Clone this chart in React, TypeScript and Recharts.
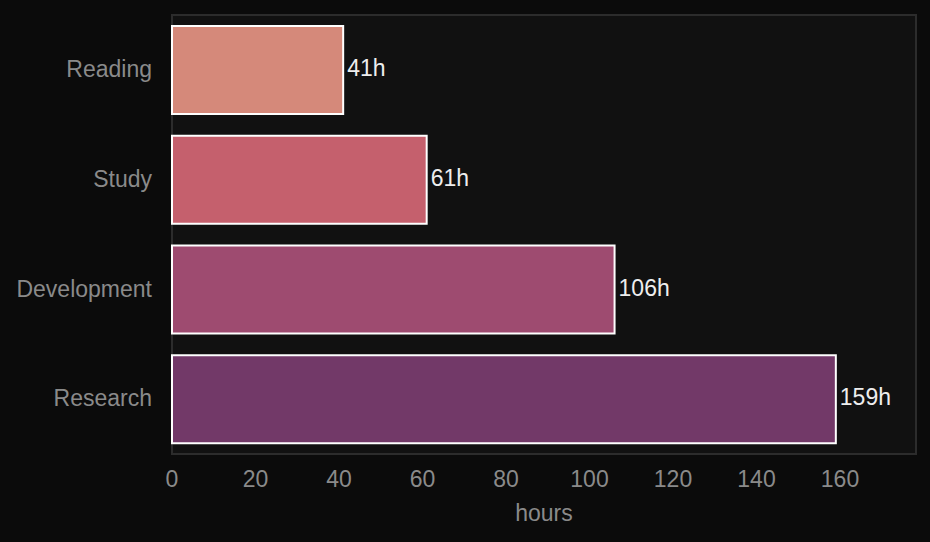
import { BarChart, Bar, XAxis, YAxis, Cell, LabelList, ReferenceArea } from 'recharts'

const categories = ['Reading', 'Study', 'Development', 'Research']
const hours = [41, 61, 106, 159]
const barColors = ['#d5897a', '#c5606d', '#9e4b70', '#723968']
const xTicks = [0, 20, 40, 60, 80, 100, 120, 140, 160]
const xMax = 178.2

const data = categories.map((name, i) => ({ name, hours: hours[i] }))

const font = '"Liberation Sans", Arial, Helvetica, sans-serif'

export default function App() {
  return (
    <div style={{ position: 'fixed', left: 0, top: 0, width: 930, height: 542, background: '#0b0b0b', fontFamily: font }}>
      <BarChart
        width={930}
        height={542}
        data={data}
        layout="vertical"
        margin={{ top: 15, right: 14, left: 0, bottom: 0 }}
        barCategoryGap="10%"
      >
        <XAxis
          type="number"
          domain={[0, xMax]}
          ticks={xTicks}
          height={88}
          tickLine={false}
          axisLine={false}
          tickSize={0}
          tickMargin={17}
          tick={{ fill: '#8a8a8a', fontSize: 23, fontFamily: font }}
          label={{ value: 'hours', position: 'insideBottom', offset: 21, fill: '#8a8a8a', fontSize: 23, fontFamily: font }}
        />
        <YAxis
          type="category"
          dataKey="name"
          width={172}
          tickLine={false}
          axisLine={false}
          tickSize={0}
          tickMargin={20}
          tick={{ fill: '#8a8a8a', fontSize: 23, fontFamily: font, dy: -1 }}
        />
        <ReferenceArea x1={0} x2={xMax} fill="#111111" fillOpacity={1} stroke="#2c2c2c" strokeWidth={2} ifOverflow="extendDomain" />
        <Bar dataKey="hours" stroke="#ffffff" strokeWidth={2} isAnimationActive={false}>
          {data.map((d, i) => (
            <Cell key={d.name} fill={barColors[i]} />
          ))}
          <LabelList
            dataKey="hours"
            position="right"
            offset={4}
            formatter={(v: number) => `${v}h`}
            style={{ fill: '#eeeeee', fontSize: 23, fontFamily: font, transform: 'translateY(-2px)' }}
          />
        </Bar>
      </BarChart>
    </div>
  )
}
